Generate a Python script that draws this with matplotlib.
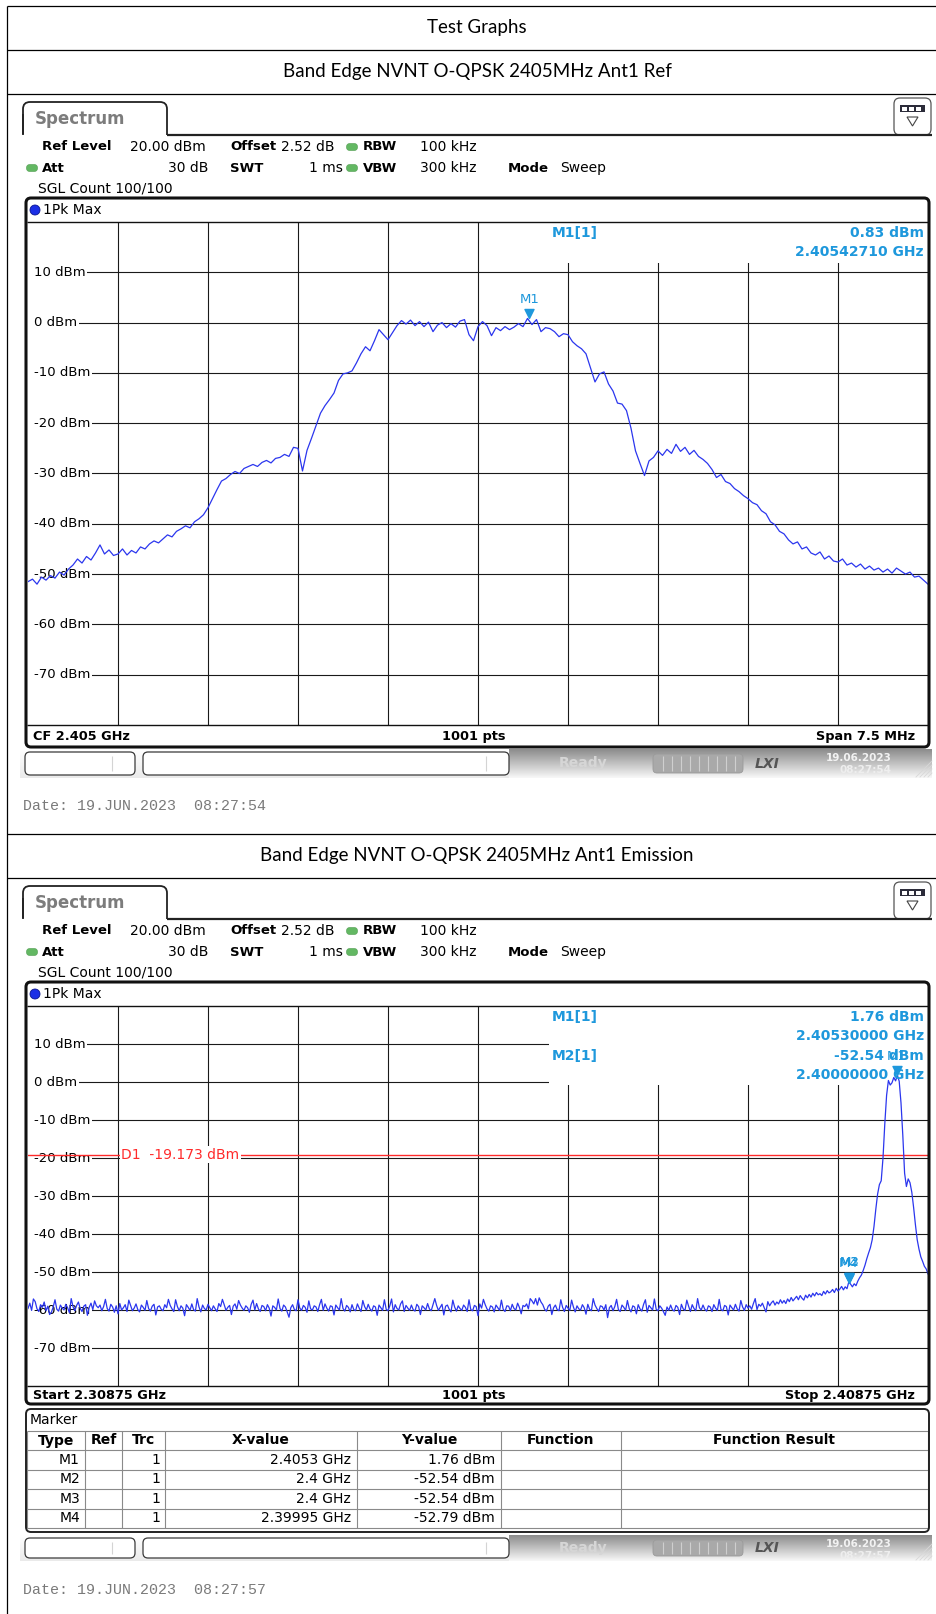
import numpy as np
import matplotlib
matplotlib.use("Agg")
import matplotlib.pyplot as plt
from matplotlib.patches import FancyBboxPatch, Rectangle, Ellipse, Polygon
from matplotlib.path import Path
from matplotlib.transforms import blended_transform_factory

# ---------------- data ----------------
doc_title = "Test Graphs"
ref_title = "Band Edge NVNT O-QPSK 2405MHz Ant1 Ref"
emi_title = "Band Edge NVNT O-QPSK 2405MHz Ant1 Emission"

ref_center_ghz = 2.405
ref_span_mhz = 7.5
ref_levels_dbm = [
    -51.5, -51.0, -52.0, -50.6, -51.2, -50.3, -50.8, -49.6, -50.2, -49.0,
    -48.2, -47.0, -47.8, -46.5, -47.2, -45.8, -44.2, -46.0, -45.2, -46.3,
    -46.0, -45.0, -46.2, -45.3, -45.8, -44.6, -45.0, -44.0, -43.4, -43.8,
    -43.0, -42.2, -42.6, -41.5, -41.0, -40.4, -40.8, -39.6, -39.0, -38.2,
    -36.8, -35.0, -33.2, -31.5, -31.0, -30.2, -29.6, -30.0, -29.0, -28.6,
    -28.2, -28.6, -27.8, -27.4, -27.9, -27.0, -26.8, -26.2, -26.6, -24.8,
    -25.0, -29.5, -25.4, -23.0, -20.5, -18.0, -16.5, -15.3, -14.0, -11.5,
    -10.2, -10.0, -9.6, -8.0, -6.2, -4.8, -5.6, -3.6, -1.4, -2.4,
    -3.4, -2.0, -0.6, 0.4, -0.3, 0.5, -0.6, 0.2, -0.8, 0.1,
    -1.8, -0.5, 0.0, -1.0, -0.2, -0.9, 0.3, 0.6, -2.4, -3.6,
    -0.8, 0.2, -0.6, -2.6, -1.0, -1.6, -0.8, -1.4, -0.9, -0.2,
    -0.8, 0.83, -0.4, 0.6, -1.8, -1.0, -1.2, -1.8, -2.8, -2.2,
    -2.4, -3.8, -4.6, -5.2, -6.2, -9.0, -11.8, -10.2, -9.8, -12.2,
    -13.6, -16.0, -16.2, -17.5, -21.0, -25.5, -28.0, -30.4, -27.5, -26.8,
    -25.5, -26.4, -25.2, -26.0, -24.2, -25.6, -24.8, -26.2, -25.4, -26.6,
    -27.2, -28.0, -29.2, -30.8, -30.2, -31.6, -32.0, -33.0, -33.6, -34.4,
    -35.0, -35.8, -36.2, -37.4, -38.0, -39.6, -40.2, -41.5, -42.0, -43.2,
    -44.0, -43.6, -45.0, -44.6, -45.8, -46.2, -45.6, -47.0, -46.4, -47.4,
    -47.6, -47.0, -48.2, -47.8, -48.6, -48.0, -49.0, -48.4, -49.2, -48.8,
    -49.6, -49.0, -49.8, -48.8, -49.4, -50.0, -49.6, -50.6, -50.4, -51.2,
    -52.0,
]
ref_marker_freq_ghz = 2.4054271
ref_marker_level_dbm = 0.83

emi_start_ghz = 2.30875
emi_stop_ghz = 2.40875
emi_levels_dbm = [
    -59.6, -58.2, -60.1, -57.1, -57.8, -59.7, -60.4, -58.6, -59.3, -57.9, -60.2, -59.0, -61.2, -60.6, -59.2, -57.3, -59.8, -60.3, -58.7, -59.5,
    -60.0, -58.5, -59.4, -60.7, -57.0, -59.1, -60.2, -58.8, -57.9, -59.6, -60.4, -59.0, -58.6, -61.4, -59.3, -58.2, -59.9, -57.6, -58.9, -59.4,
    -58.7, -60.2, -59.1, -57.2, -59.6, -60.3, -58.5, -59.2, -60.6, -58.9, -61.0, -58.3, -60.0, -59.4, -58.6, -60.4, -57.4, -58.8, -60.2, -59.5,
    -58.4, -59.9, -60.5, -58.7, -59.3, -60.1, -57.5, -59.6, -60.3, -59.0, -58.5, -61.3, -59.2, -58.9, -59.8, -60.2, -58.6, -59.4, -57.2, -58.8,
    -59.7, -60.4, -57.3, -59.1, -60.2, -58.9, -59.5, -61.5, -58.6, -59.3, -60.1, -58.4, -59.9, -60.3, -57.0, -59.2, -60.5, -58.7, -59.6, -60.0,
    -58.5, -59.4, -60.2, -58.9, -59.7, -60.4, -58.3, -59.1, -57.2, -58.6, -60.1, -59.3, -58.8, -61.2, -59.0, -58.4, -59.8, -57.5, -58.7, -59.5,
    -60.1, -58.9, -59.4, -60.6, -58.5, -57.4, -60.0, -58.3, -59.7, -60.4, -58.8, -59.1, -60.2, -58.6, -59.5, -61.6, -58.9, -59.3, -60.0, -57.1,
    -59.6, -60.3, -58.7, -59.2, -60.5, -61.9, -59.4, -58.6, -59.9, -60.2, -57.3, -59.5, -60.1, -58.8, -59.3, -60.6, -57.6, -59.7, -60.0, -58.9,
    -59.2, -60.4, -58.6, -57.2, -60.1, -58.4, -59.5, -60.3, -58.9, -59.1, -61.3, -58.7, -59.4, -60.0, -57.0, -59.6, -60.3, -58.8, -59.3, -60.5,
    -58.6, -59.9, -60.2, -58.4, -59.5, -60.4, -57.5, -59.1, -60.0, -58.5, -59.7, -60.3, -58.9, -59.2, -61.4, -58.7, -59.4, -60.1, -57.3, -59.8,
    -60.2, -58.9, -57.1, -60.5, -58.6, -59.6, -60.0, -58.4, -57.6, -60.4, -58.8, -59.5, -60.1, -58.7, -59.9, -60.3, -58.5, -59.1, -61.2, -58.9,
    -59.4, -60.0, -58.3, -59.7, -60.2, -58.6, -57.0, -58.8, -60.1, -59.3, -58.5, -61.3, -59.0, -58.7, -59.8, -60.5, -57.4, -59.2, -60.3, -58.9,
    -59.6, -60.1, -58.7, -59.3, -60.4, -57.3, -59.9, -60.2, -58.8, -59.1, -61.5, -58.4, -59.5, -57.2, -58.6, -59.7, -60.3, -58.9, -59.2, -60.5,
    -58.7, -59.4, -60.1, -57.4, -59.8, -60.4, -58.9, -59.0, -60.2, -58.5, -59.6, -60.0, -58.2, -59.3, -61.0, -58.8, -59.1, -58.4, -59.7, -57.0,
    -57.6, -58.4, -57.0, -58.7, -56.8, -57.9, -58.6, -59.8, -60.3, -59.0, -58.5, -61.2, -59.4, -58.7, -59.9, -60.2, -57.3, -59.3, -60.4, -58.8,
    -59.5, -60.1, -57.4, -59.2, -60.5, -58.9, -59.7, -60.0, -58.6, -59.4, -61.1, -58.5, -59.8, -60.2, -57.0, -58.7, -59.6, -60.4, -58.9, -59.1,
    -60.0, -58.6, -62.0, -59.4, -58.8, -60.2, -59.1, -57.2, -59.9, -60.4, -58.7, -59.3, -60.1, -57.5, -59.6, -60.5, -58.9, -59.2, -61.0, -58.6,
    -59.7, -60.3, -58.5, -57.3, -60.6, -58.8, -59.4, -60.0, -57.1, -59.8, -60.2, -58.9, -59.5, -60.4, -61.4, -59.2, -60.1, -58.7, -59.9, -60.3,
    -58.8, -59.3, -61.2, -58.5, -59.7, -60.1, -57.4, -59.0, -60.4, -58.6, -59.6, -60.2, -57.0, -59.4, -60.0, -58.7, -59.8, -60.3, -58.9, -59.2,
    -60.4, -58.6, -59.5, -60.1, -57.2, -59.9, -60.2, -58.8, -59.1, -61.3, -58.7, -59.4, -60.0, -58.5, -59.7, -60.3, -57.5, -59.2, -60.1, -58.6,
    -59.5, -58.9, -59.8, -58.3, -57.0, -59.9, -58.5, -59.0, -58.2, -59.4, -60.5, -57.8, -58.9, -58.1, -57.6, -58.7, -57.9, -58.4, -57.3, -58.2,
    -57.5, -58.3, -57.1, -57.8, -56.7, -57.6, -57.0, -56.4, -57.3, -56.2, -56.9, -57.4, -56.1, -56.8, -55.9, -56.6, -55.6, -56.3, -55.4, -56.0,
    -55.7, -56.2, -55.1, -55.8, -54.9, -55.5, -55.2, -54.6, -55.4, -54.3, -55.0, -54.5, -53.8, -54.7, -53.9, -54.4, -52.6, -53.2, -53.9, -53.1,
    -53.6, -52.4, -51.5, -50.8, -49.6, -48.2, -46.5, -45.0, -43.6, -41.5, -38.0, -33.5, -29.5, -27.0, -26.0, -20.0, -11.0, -3.5, 0.4, -0.8,
    -0.2, 1.2, 0.3, 1.76, 0.2, -5.5, -14.0, -24.0, -27.5, -25.5, -26.5, -29.0, -33.0, -37.5, -41.5, -44.0, -46.0, -47.2, -48.5, -49.2,
    -50.5,
]
emi_marker_names = ["M1", "M2", "M3", "M4"]
emi_marker_trace = [1, 1, 1, 1]
emi_marker_freq_ghz = [2.4053, 2.4, 2.4, 2.39995]
emi_marker_level_dbm = [1.76, -52.54, -52.54, -52.79]
d1_level_dbm = -19.173

y_tick_levels = [10, 0, -10, -20, -30, -40, -50, -60, -70]
level_top, level_bottom = 20, -80
n_points = 1001

# ---------------- styles ----------------
W, H = 937, 1614
TRACE = "#2b36ee"
MK = "#1e98dc"
GRID = "#1a1a1a"
GREEN = "#63b863"
FONT = "DejaVu Sans"

fig = plt.figure(figsize=(W / 100, H / 100), dpi=100)
fig.patch.set_facecolor("white")
bg = fig.add_axes([0, 0, 1, 1], zorder=0)
bg.set_axis_off()
fg = fig.add_axes([0, 0, 1, 1], zorder=5)
fg.set_axis_off()
for a in (bg, fg):
    a.set_xlim(0, W)
    a.set_ylim(H, 0)


def px_axes(x0, y0, x1, y1):
    return fig.add_axes([x0 / W, 1 - y1 / H, (x1 - x0) / W, (y1 - y0) / H], zorder=2)


def hline(a, x0, x1, y, lw=0.8, c="black", **kw):
    a.plot([x0, x1], [y, y], color=c, lw=lw, solid_capstyle="butt", **kw)


def vline(a, x, y0, y1, lw=0.8, c="black", **kw):
    a.plot([x, x], [y0, y1], color=c, lw=lw, solid_capstyle="butt", **kw)


# ---------------- document table ----------------
vline(bg, 7.5, 6, H, lw=0.9)
for yy in (6, 50, 94, 834, 878):
    hline(bg, 7, W, yy, lw=0.9)

_t = fig.text(0, 0, emi_title, fontsize=12, family="Lato")
_w = _t.get_window_extent(fig.canvas.get_renderer()).width
_t.remove()
TITLE_FS = 12 * 431 / _w
bg.text(477, 28, doc_title, ha="center", va="center", fontsize=TITLE_FS, family="Lato")
bg.text(477, 72, ref_title, ha="center", va="center", fontsize=TITLE_FS, family="Lato")
bg.text(477, 856, emi_title, ha="center", va="center", fontsize=TITLE_FS, family="Lato")

tri_marker = Path([(-1, 2), (1, 2), (0, 0), (-1, 2)],
                  [Path.MOVETO, Path.LINETO, Path.LINETO, Path.CLOSEPOLY])


def green_dot(x, y):
    bg.add_patch(FancyBboxPatch((x - 5.5, y - 3.5), 11, 7, boxstyle="round,pad=0,rounding_size=3.5",
                                fc=GREEN, ec="#4d9a4d", lw=0.4))


def header(y0):
    tab = FancyBboxPatch((23, y0 + 8), 144, 40, boxstyle="round,pad=0,rounding_size=7",
                         fc="white", ec="#222222", lw=1.3)
    bg.add_patch(tab)
    bg.add_patch(Rectangle((21, y0 + 41), 150, 12, fc="white", ec="none", zorder=3))
    vline(bg, 23, y0 + 20, y0 + 40, lw=1.3, c="#222222")
    hline(bg, 167, 932, y0 + 40.5, lw=1.6, c="#222222", zorder=4)
    bg.text(35, y0 + 25, "Spectrum", fontsize=12, color="#7c7c7c", fontweight="semibold",
            va="center", ha="left", family=FONT)
    bg.add_patch(FancyBboxPatch((894, y0 + 4), 37, 37, boxstyle="round,pad=0,rounding_size=6",
                                fc="white", ec="#555555", lw=0.9))
    bg.add_patch(Rectangle((900, y0 + 11), 25, 7, fc="#2c2c3a", ec="none"))
    for xx in (902, 909, 916):
        bg.add_patch(Rectangle((xx, y0 + 12.5), 5, 4, fc="white", ec="none"))
    bg.add_patch(Polygon([(907, y0 + 23), (918, y0 + 23), (912.5, y0 + 32)], closed=True,
                         fc="white", ec="#444444", lw=0.8))
    fs, fb = 10, 9.5
    r1, r2, r3 = y0 + 53, y0 + 74, y0 + 95
    bg.text(42, r1, "Ref Level", fontweight="bold", fontsize=fb, va="center", family=FONT)
    bg.text(130, r1, "20.00 dBm", fontsize=fs, va="center", family=FONT)
    bg.text(230, r1, "Offset", fontweight="bold", fontsize=fb, va="center", family=FONT)
    bg.text(281, r1, "2.52 dB", fontsize=fs, va="center", family=FONT)
    green_dot(352, r1)
    bg.text(363, r1, "RBW", fontweight="bold", fontsize=fb, va="center", family=FONT)
    bg.text(420, r1, "100 kHz", fontsize=fs, va="center", family=FONT)
    green_dot(32, r2)
    bg.text(42, r2, "Att", fontweight="bold", fontsize=fb, va="center", family=FONT)
    bg.text(208, r2, "30 dB", fontsize=fs, va="center", ha="right", family=FONT)
    bg.text(230, r2, "SWT", fontweight="bold", fontsize=fb, va="center", family=FONT)
    bg.text(343, r2, "1 ms", fontsize=fs, va="center", ha="right", family=FONT)
    green_dot(352, r2)
    bg.text(363, r2, "VBW", fontweight="bold", fontsize=fb, va="center", family=FONT)
    bg.text(420, r2, "300 kHz", fontsize=fs, va="center", family=FONT)
    bg.text(508, r2, "Mode", fontweight="bold", fontsize=fb, va="center", family=FONT)
    bg.text(560, r2, "Sweep", fontsize=fs, va="center", family=FONT)
    bg.text(38, r3, "SGL Count 100/100", fontsize=fs, va="center", family=FONT)


def trace_panel(top, plot_top, plot_bot, bottom, left_lab, right_lab):
    fg.add_patch(FancyBboxPatch((26, top), 903, bottom - top, boxstyle="round,pad=0,rounding_size=5",
                                fc="none", ec="#111111", lw=2.2))
    hline(fg, 27, 928, plot_top, lw=1.0, c="#111111")
    hline(fg, 27, 928, plot_bot, lw=1.0, c="#111111")
    bg.add_patch(Ellipse((35, top + 12), 10, 10, fc="#1b2fe6", ec="#0a1590", lw=0.6))
    bg.text(43, top + 12, "1Pk Max", fontsize=10, va="center", family=FONT)
    ym = (plot_bot + bottom) / 2 + 0.5
    bg.text(33, ym, left_lab, fontsize=9.3, fontweight="bold", va="center", family=FONT)
    bg.text(474, ym, "%d pts" % n_points, fontsize=9.3, fontweight="bold", va="center", ha="center", family=FONT)
    bg.text(915, ym, right_lab, fontsize=9.3, fontweight="bold", va="center", ha="right", family=FONT)


def status_bar(y0, y1, date_s, time_s):
    n = 40
    g = np.linspace(0, 1, n)
    left = np.stack([1 - 0.08 * g] * 3, axis=1)[:, None, :]
    right = np.stack([0.55 + 0.42 * g] * 3, axis=1)[:, None, :]
    bg.imshow(left, extent=[20, 509, y1, y0], aspect="auto", interpolation="bilinear", zorder=1)
    bg.imshow(right, extent=[509, 932, y1, y0], aspect="auto", interpolation="bilinear", zorder=1)
    for (bx, bw, inner) in ((25, 110, 112), (143, 366, 486)):
        bg.add_patch(FancyBboxPatch((bx, y0 + 3), bw, y1 - y0 - 6, boxstyle="round,pad=0,rounding_size=5",
                                    fc="white", ec="#3a3a3a", lw=0.9, zorder=2))
        vline(bg, inner, y0 + 7, y1 - 7, lw=0.8, c="#d4d4d4", zorder=3)
    ym = (y0 + y1) / 2
    bg.text(559, ym, "Ready", fontsize=10, fontweight="bold", color="#d6d6d6", va="center", zorder=3, family=FONT)
    bg.add_patch(FancyBboxPatch((653, y0 + 5), 90, y1 - y0 - 10, boxstyle="round,pad=0,rounding_size=4",
                                fc="#a9a9a9", ec="#9a9a9a", lw=0.6, zorder=2))
    for xx in np.arange(663, 740, 9):
        vline(bg, xx, y0 + 7, y1 - 7, lw=0.8, c="#cfcfcf", zorder=3)
    bg.text(767, ym, "LXI", fontsize=10, fontweight="heavy", fontstyle="italic", color="#555555",
            va="center", ha="center", zorder=3, family=FONT)
    bg.text(892, y0 + 9, date_s, fontsize=7.5, fontweight="bold", color="#f2f2f2", va="center", ha="right",
            zorder=3, family=FONT)
    bg.text(892, y0 + 21, time_s, fontsize=7.5, fontweight="bold", color="#eeeeee", va="center", ha="right",
            zorder=3, family=FONT)
    for k in range(5):
        bg.plot([916 + 4 * k, 932], [y1 - 1, y1 - 1 - (16 - 4 * k)], color="#d8d8d8", lw=0.6, zorder=3)


def spectrum_plot(box, fstart, fstop, freqs, levels, info_box):
    x0, y0, x1, y1 = box
    ax = px_axes(x0, y0, x1, y1)
    ax.set_xlim(fstart, fstop)
    ax.set_ylim(level_bottom, level_top)
    ax.set_axis_off()
    span = fstop - fstart
    for i in range(1, 10):
        ax.axvline(fstart + span * i / 10, color=GRID, lw=0.8, zorder=1)
    for lv in y_tick_levels:
        ax.axhline(lv, color=GRID, lw=0.8, zorder=1)
    ix0, iy1 = info_box
    ax.add_patch(Rectangle(((ix0 - x0) / (x1 - x0), 1 - (iy1 - y0) / (y1 - y0)),
                           1, 1, transform=ax.transAxes, fc="white", ec="none", zorder=1.5))
    ax.add_patch(Rectangle((0, 0), (35 - x0) / (x1 - x0), 1, transform=ax.transAxes,
                           fc="white", ec="none", zorder=1.6))
    trans = blended_transform_factory(ax.transAxes, ax.transData)
    for lv in y_tick_levels:
        ax.text((34 - x0) / (x1 - x0), lv, "%d dBm" % lv, transform=trans, ha="left", va="center",
                fontsize=9.5, family=FONT, zorder=2,
                bbox=dict(boxstyle="square,pad=0.12", fc="white", ec="none"))
    ax.plot(freqs, levels, color=TRACE, lw=0.9, zorder=5)
    return ax, trans


def marker(ax, f, v, name):
    ax.plot([f], [v], marker=tri_marker, ms=13, color=MK, linestyle="none", zorder=6, clip_on=False)
    ax.annotate(name, (f, v), xytext=(0, 19), textcoords="offset pixels", ha="center", va="center",
                color=MK, fontsize=9.5, family=FONT, zorder=7)


# ---------------- screen 1: reference ----------------
header(94)
trace_panel(198, 222, 725, 747, "CF %.3f GHz" % ref_center_ghz, "Span %.1f MHz" % ref_span_mhz)
ref_start = ref_center_ghz - ref_span_mhz / 2000
ref_stop = ref_center_ghz + ref_span_mhz / 2000
ref_freqs = np.linspace(ref_start, ref_stop, len(ref_levels_dbm))
ax1, tr1 = spectrum_plot((28, 222, 928, 725), ref_start, ref_stop, ref_freqs, ref_levels_dbm, (549, 263))
marker(ax1, ref_marker_freq_ghz, ref_marker_level_dbm, "M1")
fg.text(552, 233, "M1[1]", color=MK, fontsize=10, fontweight="bold", va="center", family=FONT)
fg.text(924, 233, "%.2f dBm" % ref_marker_level_dbm, color=MK, fontsize=10, fontweight="bold",
        va="center", ha="right", family=FONT)
fg.text(924, 252, "%.8f GHz" % ref_marker_freq_ghz, color=MK, fontsize=10, fontweight="bold",
        va="center", ha="right", family=FONT)
status_bar(749, 778, "19.06.2023", "08:27:54")
bg.text(23, 806, "Date: 19.JUN.2023  08:27:54", fontsize=10.8, family="Liberation Mono",
        color="#7a7a7a", va="center")

# ---------------- screen 2: emission ----------------
header(878)
trace_panel(982, 1006, 1386, 1404, "Start %.5f GHz" % emi_start_ghz, "Stop %.5f GHz" % emi_stop_ghz)
emi_freqs = np.linspace(emi_start_ghz, emi_stop_ghz, len(emi_levels_dbm))
ax2, tr2 = spectrum_plot((28, 1006, 928, 1386), emi_start_ghz, emi_stop_ghz, emi_freqs, emi_levels_dbm,
                         (549, 1085))
ax2.axhline(d1_level_dbm, color="#ff2a2a", lw=1.0, zorder=3)
ax2.text((121 - 28) / 900, d1_level_dbm, "D1  %.3f dBm" % d1_level_dbm, transform=tr2, color="#ff2a2a",
         fontsize=10, family=FONT, va="center", ha="left", zorder=4,
         bbox=dict(boxstyle="square,pad=0.1", fc="white", ec="none"))
for nm, f, v in list(zip(emi_marker_names, emi_marker_freq_ghz, emi_marker_level_dbm))[::-1]:
    marker(ax2, f, v, nm)
info_rows = [(1017, "M1[1]", "%.2f dBm" % emi_marker_level_dbm[0]),
             (1036, "", "%.8f GHz" % emi_marker_freq_ghz[0]),
             (1056, "M2[1]", "%.2f dBm" % emi_marker_level_dbm[1]),
             (1075, "", "%.8f GHz" % emi_marker_freq_ghz[1])]
for yy, nm, val in info_rows:
    if nm:
        fg.text(552, yy, nm, color=MK, fontsize=10, fontweight="bold", va="center", family=FONT)
    fg.text(924, yy, val, color=MK, fontsize=10, fontweight="bold", va="center", ha="right", family=FONT)

# marker table
fg.add_patch(FancyBboxPatch((26, 1409), 903, 123, boxstyle="round,pad=0,rounding_size=5",
                            fc="none", ec="#222222", lw=1.4))
bg.text(30, 1420, "Marker", fontsize=10, va="center", family=FONT)
cols = [27, 85, 122, 165, 357, 501, 621, 928]
rows = [1431, 1450, 1469.5, 1489, 1508.5, 1528]
col_heads = ["Type", "Ref", "Trc", "X-value", "Y-value", "Function", "Function Result"]
for yy in rows:
    hline(bg, cols[0], cols[-1], yy, lw=0.8, c="#8a8a8a")
for xx in cols:
    vline(bg, xx, rows[0], rows[-1], lw=0.8, c="#8a8a8a")
for i, hd in enumerate(col_heads):
    bg.text((cols[i] + cols[i + 1]) / 2, (rows[0] + rows[1]) / 2, hd, fontsize=10, fontweight="bold",
            ha="center", va="center", family=FONT)
for r, (nm, trc, f, v) in enumerate(zip(emi_marker_names, emi_marker_trace, emi_marker_freq_ghz,
                                        emi_marker_level_dbm)):
    yy = (rows[r + 1] + rows[r + 2]) / 2
    bg.text(cols[1] - 5, yy, nm, fontsize=10, ha="right", va="center", family=FONT)
    bg.text(cols[3] - 5, yy, "%d" % trc, fontsize=10, ha="right", va="center", family=FONT)
    bg.text(cols[4] - 6, yy, "%g GHz" % f, fontsize=10, ha="right", va="center", family=FONT)
    bg.text(cols[5] - 6, yy, "%.2f dBm" % v, fontsize=10, ha="right", va="center", family=FONT)

status_bar(1535, 1561, "19.06.2023", "08:27:57")
bg.text(23, 1590, "Date: 19.JUN.2023  08:27:57", fontsize=10.8, family="Liberation Mono",
        color="#7a7a7a", va="center")

for a in (bg, fg):
    a.set_xlim(0, W)
    a.set_ylim(H, 0)

fig.savefig("out.png", dpi=100, facecolor="white")
